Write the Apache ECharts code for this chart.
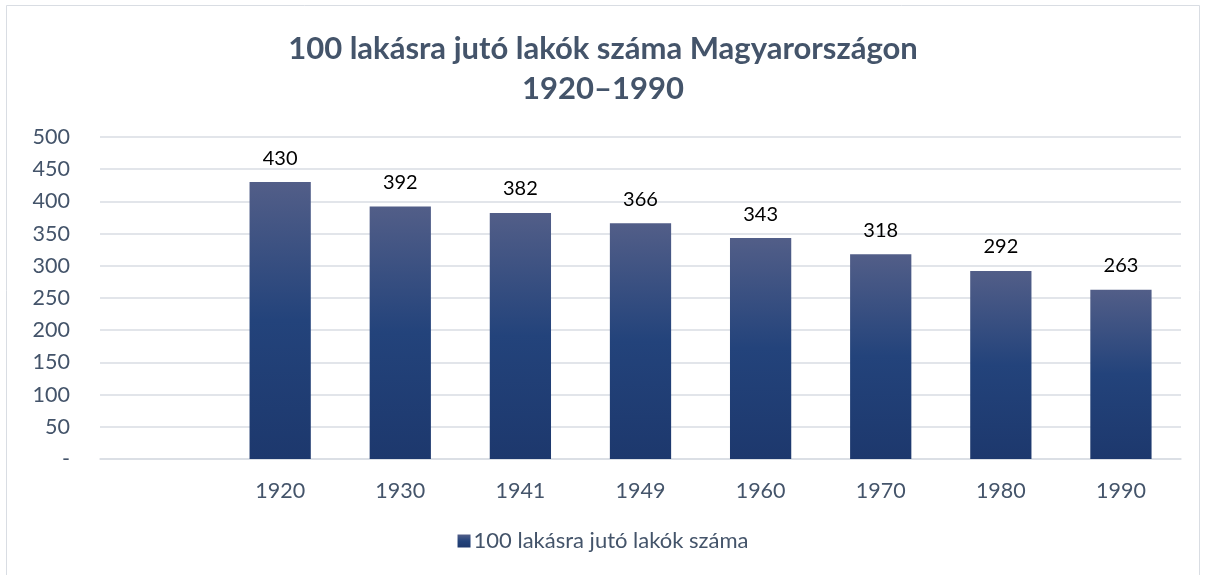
<!DOCTYPE html>
<html>
<head>
<meta charset="utf-8">
<script src="https://cdn.jsdelivr.net/npm/echarts@6/dist/echarts.min.js"></script>
<style>
  html, body { margin: 0; padding: 0; background: #fff; }
  #chart { width: 1206px; height: 575px; }
</style>
</head>
<body>
<div id="chart"></div>
<script>
// adatok
var years = ['', '1920', '1930', '1941', '1949', '1960', '1970', '1980', '1990'];
var residents = [null, 430, 392, 382, 366, 343, 318, 292, 263];
var seriesName = '100 lakásra jutó lakók száma';

var myChart = echarts.init(document.getElementById('chart'));

var barColor = new echarts.graphic.LinearGradient(0, 0, 0, 1, [
  { offset: 0, color: '#525e88' },
  { offset: 0.5, color: '#23437b' },
  { offset: 1, color: '#1d386d' }
]);

var option = {
  backgroundColor: '#fff',
  animation: false,
  title: {
    text: '100 lakásra jutó lakók száma Magyarországon\n1920–1990',
    left: 'center',
    top: 24,
    textStyle: {
      fontFamily: 'Lato',
      fontWeight: 'bold',
      fontSize: 31,
      color: '#44546a',
      lineHeight: 40
    }
  },
  graphic: [{
    type: 'rect',
    shape: { x: 6.5, y: 5.5, width: 1193, height: 600 },
    style: { fill: 'none', stroke: '#d9dde3', lineWidth: 1 }
  }],
  legend: {
    data: [seriesName],
    bottom: 18,
    left: 'center',
    itemWidth: 13,
    itemHeight: 13,
    itemGap: 6,
    icon: 'rect',
    textStyle: { fontFamily: 'Lato', fontSize: 22, color: '#44546a', padding: [0, 0, 0, -2] }
  },
  grid: {
    left: 100,
    right: 25,
    top: 137,
    bottom: 116
  },
  xAxis: {
    type: 'category',
    data: years,
    axisLine: { lineStyle: { color: '#d9dde3', width: 1.5 } },
    axisTick: { show: false },
    axisLabel: {
      fontFamily: 'Lato',
      fontSize: 21.5,
      color: '#44546a',
      margin: 21
    }
  },
  yAxis: {
    type: 'value',
    min: 0,
    max: 500,
    interval: 50,
    axisLine: { show: false },
    axisTick: { show: false },
    splitLine: { lineStyle: { color: '#d9dde3', width: 1.5 } },
    axisLabel: {
      fontFamily: 'Lato',
      fontSize: 21.5,
      color: '#44546a',
      margin: 30,
      formatter: function (v) { return v === 0 ? '-' : v; }
    }
  },
  series: [{
    name: seriesName,
    type: 'bar',
    data: residents,
    barWidth: '51%',
    itemStyle: { color: barColor },
    label: {
      show: true,
      position: 'top',
      distance: 14,
      fontFamily: 'Lato',
      fontSize: 20,
      color: '#000'
    }
  }]
};

myChart.setOption(option);
</script>
</body>
</html>
